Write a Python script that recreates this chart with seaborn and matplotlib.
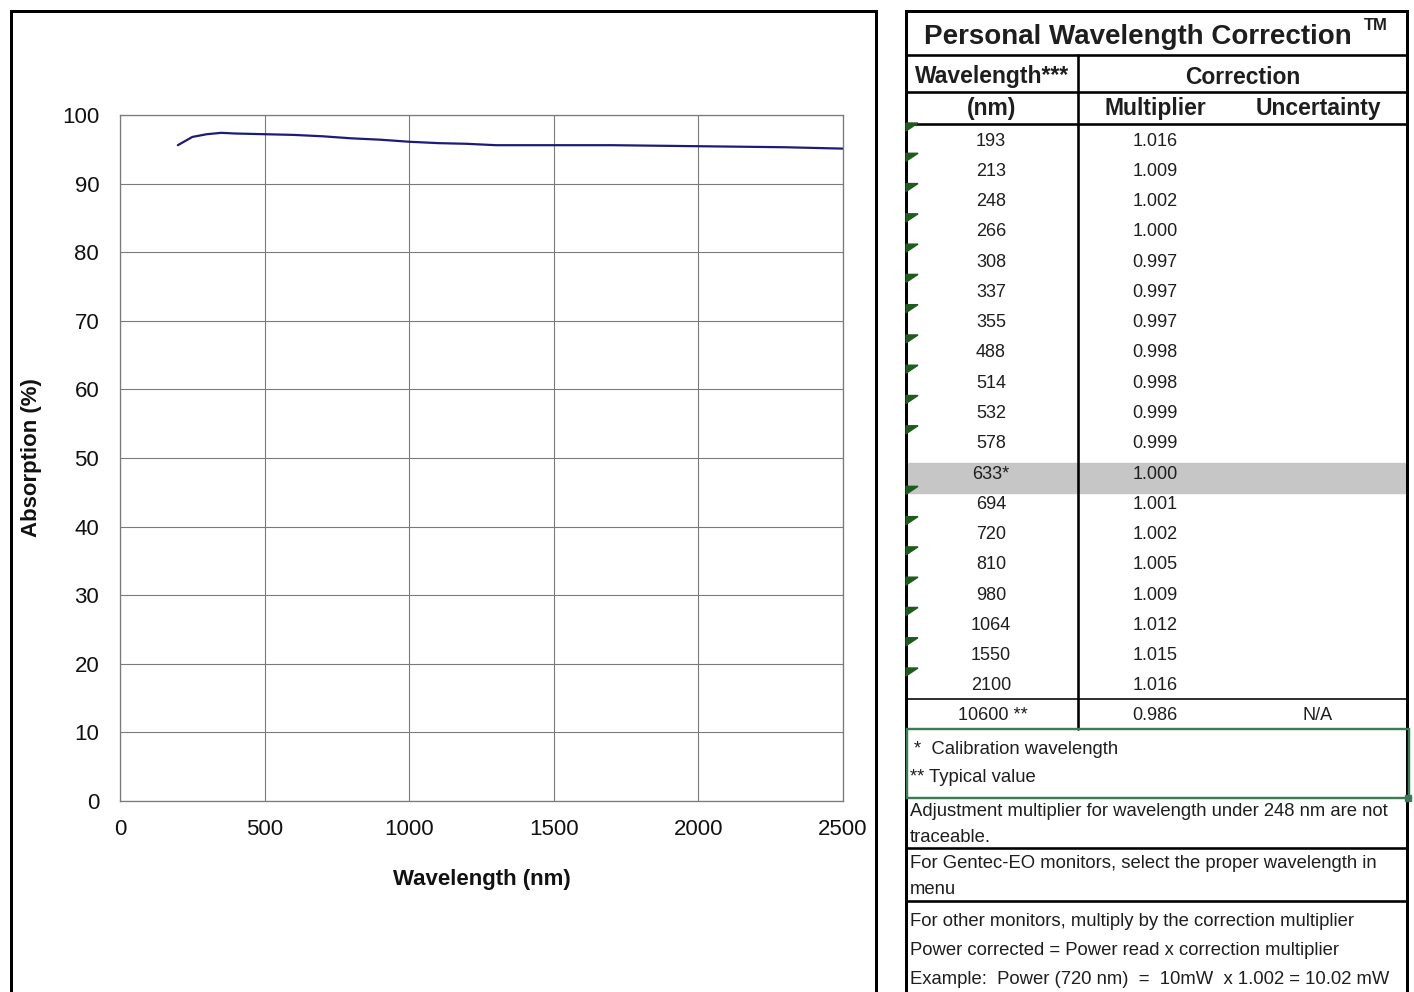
import numpy as np
import pandas as pd
import seaborn as sns
import matplotlib.pyplot as plt
from matplotlib.patches import Rectangle, Polygon

# chart data
wavelength_nm = [200, 250, 300, 350, 400, 500, 600, 700, 800, 900, 1000,
                 1100, 1200, 1300, 1500, 1700, 1900, 2100, 2300, 2500]
absorption_pct = [95.6, 96.8, 97.2, 97.4, 97.3, 97.2, 97.1, 96.9, 96.6, 96.4, 96.1,
                  95.9, 95.8, 95.6, 95.6, 95.6, 95.5, 95.4, 95.3, 95.1]

# correction table
table_wl = ["193", "213", "248", "266", "308", "337", "355", "488", "514", "532",
            "578", "633*", "694", "720", "810", "980", "1064", "1550", "2100"]
table_mult = ["1.016", "1.009", "1.002", "1.000", "0.997", "0.997", "0.997", "0.998",
              "0.998", "0.999", "0.999", "1.000", "1.001", "1.002", "1.005", "1.009",
              "1.012", "1.015", "1.016"]
typical_wl = "10600 **"
typical_mult = "0.986"
typical_unc = "N/A"
footnotes = ["*  Calibration wavelength", "** Typical value"]
note_traceable = ["Adjustment multiplier for wavelength under 248 nm are not", "traceable."]
note_gentec = ["For Gentec-EO monitors, select the proper wavelength in", "menu"]
note_other = ["For other monitors, multiply by the correction multiplier",
              "Power corrected = Power read x correction multiplier",
              "Example:  Power (720 nm)  =  10mW  x 1.002 = 10.02 mW"]

df = pd.DataFrame({"Wavelength (nm)": wavelength_nm, "Absorption (%)": absorption_pct})

sns.set_style("white")
plt.rcParams["font.family"] = ["Liberation Sans", "DejaVu Sans"]

W, H = 1414, 992
fig = plt.figure(figsize=(W / 100, H / 100), dpi=100)

# overlay axes in pixel coordinates for borders and the table
ov = fig.add_axes([0, 0, 1, 1])
ov.set_xlim(0, W)
ov.set_ylim(H, 0)
ov.axis("off")
ov.patch.set_alpha(0)

PX = 0.72  # one pixel in points

# left panel border
ov.plot([11, 11, 876, 876], [H + 5, 11, 11, H + 5], color="black", lw=3 * PX,
        solid_joinstyle="miter")

# ---- chart ----
ax = fig.add_axes([120 / W, (H - 801) / H, 723 / W, 686 / H])
sns.lineplot(data=df, x="Wavelength (nm)", y="Absorption (%)", ax=ax,
             color="#1c1c78", lw=1.6)
ax.set_xlim(0, 2500)
ax.set_ylim(0, 100)
ax.set_xticks(np.arange(0, 2501, 500))
ax.set_yticks(np.arange(0, 101, 10))
ax.grid(True, color="#7a7a7a", lw=1.1 * PX)
for s in ax.spines.values():
    s.set_color("#7a7a7a")
    s.set_linewidth(1.3 * PX)
ax.tick_params(axis="both", direction="out", length=5, width=1, color="#7a7a7a",
               labelsize=16, labelcolor="#111111")
ax.tick_params(axis="y", pad=10)
ax.tick_params(axis="x", pad=8)
ax.set_xlabel("Wavelength (nm)", fontsize=16, fontweight="bold", labelpad=21, color="#111111")
ax.set_ylabel("Absorption (%)", fontsize=16, fontweight="bold", labelpad=14, color="#111111")

# ---- table ----
L, R = 906, 1407
lw_thick = 2.6 * PX
ov.plot([L, L, R, R], [H + 5, 11, 11, H + 5], color="black", lw=3 * PX,
        solid_joinstyle="miter")
for y in [55, 92, 124]:
    ov.plot([L, R], [y, y], color="black", lw=lw_thick)
ov.plot([1078, 1078], [55, 729], color="black", lw=lw_thick)
ov.plot([L, R], [699, 699], color="black", lw=1.6 * PX)
ov.plot([L, R], [848, 848], color="black", lw=lw_thick)
ov.plot([L, R], [901, 901], color="black", lw=lw_thick)

# highlighted calibration row
row_y = np.linspace(141, 686, len(table_wl))
ov.add_patch(Rectangle((L + 1, 463), R - L - 2, 30, color="#c6c6c6", zorder=0))

tc = "#1e1e1e"
ov.text(1138, 37, "Personal Wavelength Correction", ha="center", va="center",
        fontsize=20, fontweight="bold", color=tc)
ov.text(1376, 26, "TM", ha="center", va="center", fontsize=12, fontweight="bold", color=tc)
ov.text(992, 77, "Wavelength***", ha="center", va="center", fontsize=16.5,
        fontweight="bold", color=tc)
ov.text(1243, 77, "Correction", ha="center", va="center", fontsize=16.5,
        fontweight="bold", color=tc)
ov.text(992, 109, "(nm)", ha="center", va="center", fontsize=16.5, fontweight="bold", color=tc)
ov.text(1155, 109, "Multiplier", ha="center", va="center", fontsize=16.5,
        fontweight="bold", color=tc)
ov.text(1318, 109, "Uncertainty", ha="center", va="center", fontsize=16.5,
        fontweight="bold", color=tc)

for i, (wl, m) in enumerate(zip(table_wl, table_mult)):
    y = row_y[i]
    ov.text(991, y, wl, ha="center", va="center", fontsize=13, color=tc)
    ov.text(1155, y, m, ha="center", va="center", fontsize=13, color=tc)
    if "*" not in wl:
        ov.add_patch(Polygon([[L, y - 18], [L + 12, y - 18], [L, y - 10]],
                             closed=True, color="#1f5a1f", zorder=3))

ov.text(993, 716, typical_wl, ha="center", va="center", fontsize=13, color=tc)
ov.text(1155, 716, typical_mult, ha="center", va="center", fontsize=13, color=tc)
ov.text(1318, 716, typical_unc, ha="center", va="center", fontsize=13, color=tc)

# footnote box (green outline)
ov.add_patch(Rectangle((L + 1, 729), R - L + 1, 69, fill=False,
                       edgecolor="#3b7a55", lw=2.4 * PX, zorder=4))
ov.add_patch(Rectangle((R - 2, 795), 6, 6, color="#3b7a55", zorder=5))
fs_note = 13.3
ov.text(914, 750, footnotes[0], ha="left", va="center", fontsize=fs_note, color=tc)
ov.text(910, 777, footnotes[1], ha="left", va="center", fontsize=fs_note, color=tc)

for j, line in enumerate(note_traceable):
    ov.text(910, 811 + 26 * j, line, ha="left", va="center", fontsize=fs_note, color=tc)
for j, line in enumerate(note_gentec):
    ov.text(910, 863 + 26 * j, line, ha="left", va="center", fontsize=fs_note, color=tc)
for j, line in enumerate(note_other):
    ov.text(910, 921 + 29.5 * j, line, ha="left", va="center", fontsize=fs_note, color=tc)

fig.savefig("out.png", dpi=100, facecolor="white")
